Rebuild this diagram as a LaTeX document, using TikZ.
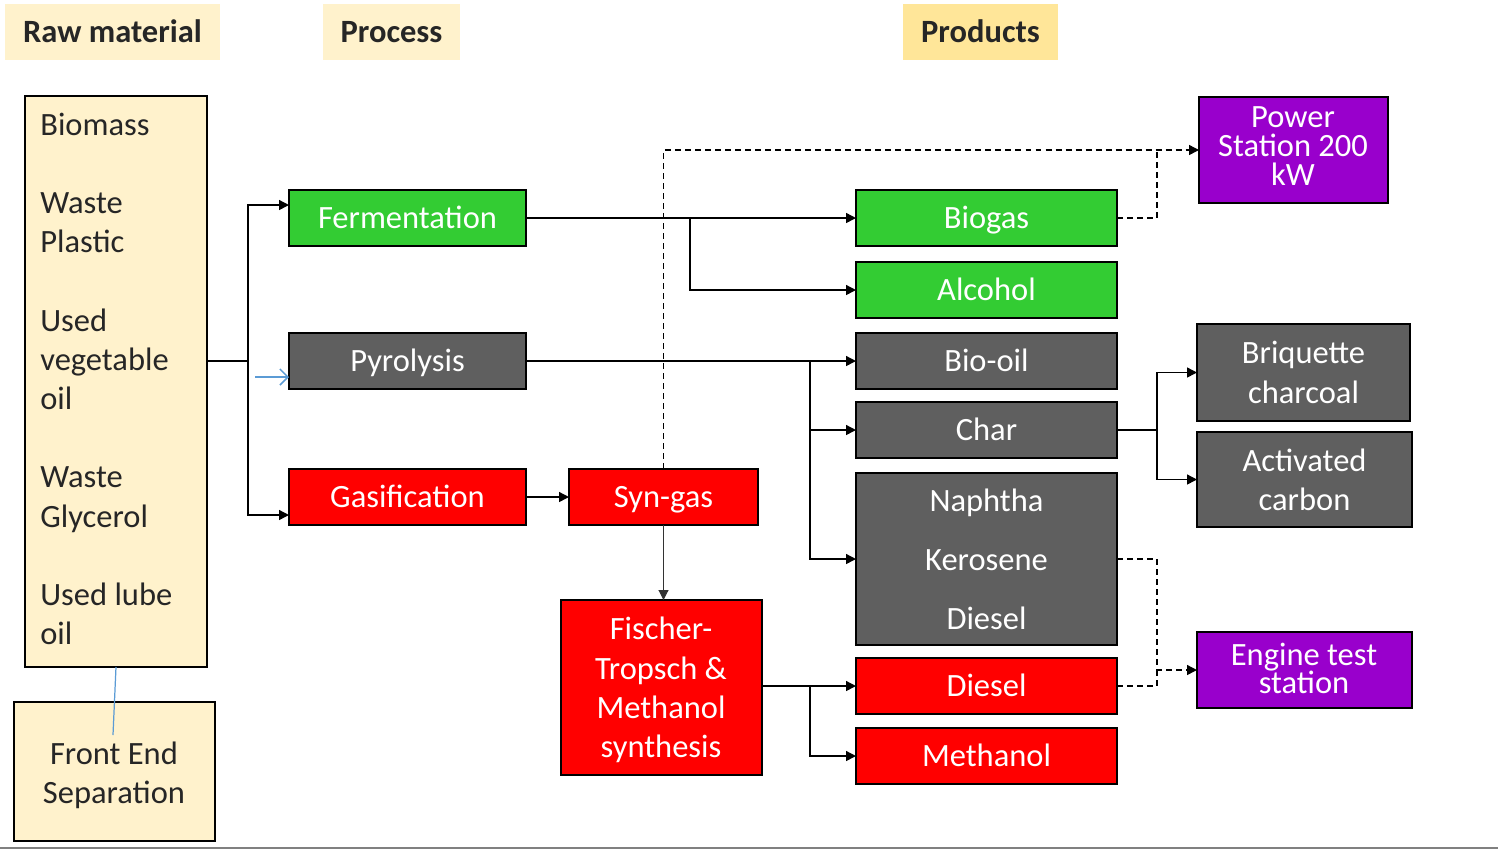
\documentclass[tikz,border=0pt]{standalone}
\usepackage{fontspec}
\setmainfont{Carlito}
\usetikzlibrary{arrows.meta}
\definecolor{paleY}{HTML}{FFF2CC}
\definecolor{hdrY}{HTML}{FFE699}
\definecolor{grn}{HTML}{33CC33}
\definecolor{dgray}{HTML}{5F5F5F}
\definecolor{purp}{HTML}{9900CC}
\definecolor{txt}{HTML}{262626}
\definecolor{bl}{HTML}{5B9BD5}
\newcommand\mkbox[7]{\node[#6, minimum width={(#4-#2)*0.02cm}, minimum height={(#5-#3)*0.02cm}] (#1) at ({(#2+#4)/2},{(#3+#5)/2}) {#7};}
\tikzset{
  fnt/.style={font=\fontsize{18.5}{22.3}\selectfont},
  one/.style={text height=16pt, text depth=4.6pt},
  basebox/.style={draw=black, line width=0.9pt, inner sep=0pt, outer sep=0pt, fnt, align=center, text=white},
  grnbox/.style={basebox, fill=grn, one},
  graybox/.style={basebox, fill=dgray},
  redbox/.style={basebox, fill=red},
  purbox/.style={basebox, fill=purp},
  yelbox/.style={basebox, fill=paleY, text=txt},
  hdr/.style={fill=#1, inner sep=0pt, outer sep=0pt, one, font=\fontsize{18.5}{22.3}\selectfont\bfseries, text=txt},
  ln/.style={draw=black, line width=0.8pt},
  arr/.style={ln, -{Triangle[length=2mm,width=2mm]}},
  dsh/.style={ln, dash pattern=on 3.4pt off 2.3pt},
  dsharr/.style={dsh, -{Triangle[length=2mm,width=2mm]}},
  bluearr/.style={draw=bl, line width=0.9pt, -{Straight Barb[length=1.6mm,width=3.2mm]}},
}
\begin{document}
\begin{tikzpicture}[x={(0.02cm,0)}, y={(0,-0.02cm)}]
\useasboundingbox (0,0) rectangle (1498,850);
% headers
\mkbox{hraw}{5}{4}{220}{60}{hdr=paleY}{Raw material}
\mkbox{hproc}{323}{4}{460}{60}{hdr=paleY}{Process}
\mkbox{hprod}{903}{4}{1058}{60}{hdr=hdrY}{Products}
% raw material
\mkbox{raw}{25}{96}{207}{667}{yelbox}{}
\node[fnt, text=txt, anchor=north west, align=left, inner sep=0pt] (rawtxt) at (40,112.5)
  {Biomass\\~\\Waste\\Plastic\\~\\Used\\vegetable\\oil\\~\\Waste\\Glycerol\\~\\Used lube\\oil};
\mkbox{fe}{14}{702}{215}{841}{yelbox}{}
\node[fnt, text=txt, align=center, inner sep=0pt] (fetxt) at (114,775) {Front End\\Separation};
% processes
\mkbox{ferm}{289}{190}{526}{246}{grnbox}{Fermentation}
\mkbox{pyro}{289}{333}{526}{389}{graybox, one}{Pyrolysis}
\mkbox{gas}{289}{469}{526}{525}{redbox, one}{Gasification}
\mkbox{syn}{569}{469}{758}{525}{redbox, one}{Syn-gas}
\mkbox{fis}{561}{600}{762}{775}{redbox}{}
\node[fnt, text=white, align=center, inner sep=0pt] (fistxt) at (661,690) {Fischer-\\Tropsch \&\\Methanol\\synthesis};
% products
\mkbox{biogas}{856}{190}{1117}{246}{grnbox}{Biogas}
\mkbox{alc}{856}{262}{1117}{318}{grnbox}{Alcohol}
\mkbox{biooil}{856}{333}{1117}{389}{graybox, one}{Bio-oil}
\mkbox{char}{856}{402}{1117}{458}{graybox, one}{Char}
\mkbox{naph}{856}{473}{1117}{645}{graybox, font=\fontsize{18.5}{33.5}\selectfont}{Naphtha\\Kerosene\\Diesel}
\mkbox{diesel}{856}{658}{1117}{714}{redbox, one}{Diesel}
\mkbox{meth}{856}{728}{1117}{784}{redbox, one}{Methanol}
\mkbox{power}{1199}{97}{1388}{203}{purbox}{}
\node[fnt, text=white, align=center, font=\fontsize{18.5}{16.4}\selectfont, inner sep=0pt] (powertxt) at (1293,146) {Power\\Station 200\\kW};
\mkbox{briq}{1197}{324}{1410}{421}{graybox}{Briquette\\charcoal}
\mkbox{act}{1197}{432}{1412}{527}{graybox}{Activated\\carbon}
\mkbox{eng}{1197}{632}{1412}{708}{purbox}{}
\node[fnt, text=white, align=center, font=\fontsize{18.5}{16}\selectfont, inner sep=0pt] (engtxt) at (1304,668) {Engine test\\station};
% connectors
\coordinate (j1) at (248,361);
\draw[ln] (raw.east |- pyro.west) -- (j1);
\draw[arr] (j1) |- ([yshift=0.26cm]ferm.west);
\draw[arr] (j1) |- ([yshift=-0.36cm]gas.west);
\coordinate (bs) at (255,377);
\draw[bluearr] (bs) -- (bs -| pyro.west);
\coordinate (j2) at (690,218);
\draw[arr] (ferm.east) -- (biogas.west);
\draw[arr] (j2) |- (alc.west);
\coordinate (j3) at (810,361);
\draw[arr] (pyro.east) -- (biooil.west);
\draw[arr] (j3) |- (char.west);
\draw[arr] (j3) |- (naph.west);
\draw[arr] (gas.east) -- (syn.west);
\draw[draw=black!80, line width=0.6pt, -{Triangle[length=2mm,width=2mm]}] (syn.south) -- (syn.south |- fis.north);
\coordinate (d1) at (1157,150);
\draw[dsharr] (syn.north) |- (power.west);
\draw[dsh] (biogas.east) -| (d1);
\coordinate (j4) at (1157,430);
\draw[ln] (char.east) -- (j4);
\draw[arr] (j4) |- (briq.west);
\draw[arr] (j4) |- (act.west);
\coordinate (j5) at (1157,559);
\draw[dsharr] (naph.east) -- (j5) |- (eng.west);
\draw[dsh] (diesel.east) -| (eng.west -| j5);
\coordinate (j7) at (810,687);
\draw[arr] (fis.east |- diesel.west) -- (diesel.west);
\draw[arr] (j7) |- (meth.west);
\coordinate (fe1) at (113,735);
\draw[draw=bl, line width=0.7pt] (raw.south) -- (fe1);
\draw[draw=black!50, line width=1pt] (0,848) -- (1498,848);
\end{tikzpicture}
\end{document}
